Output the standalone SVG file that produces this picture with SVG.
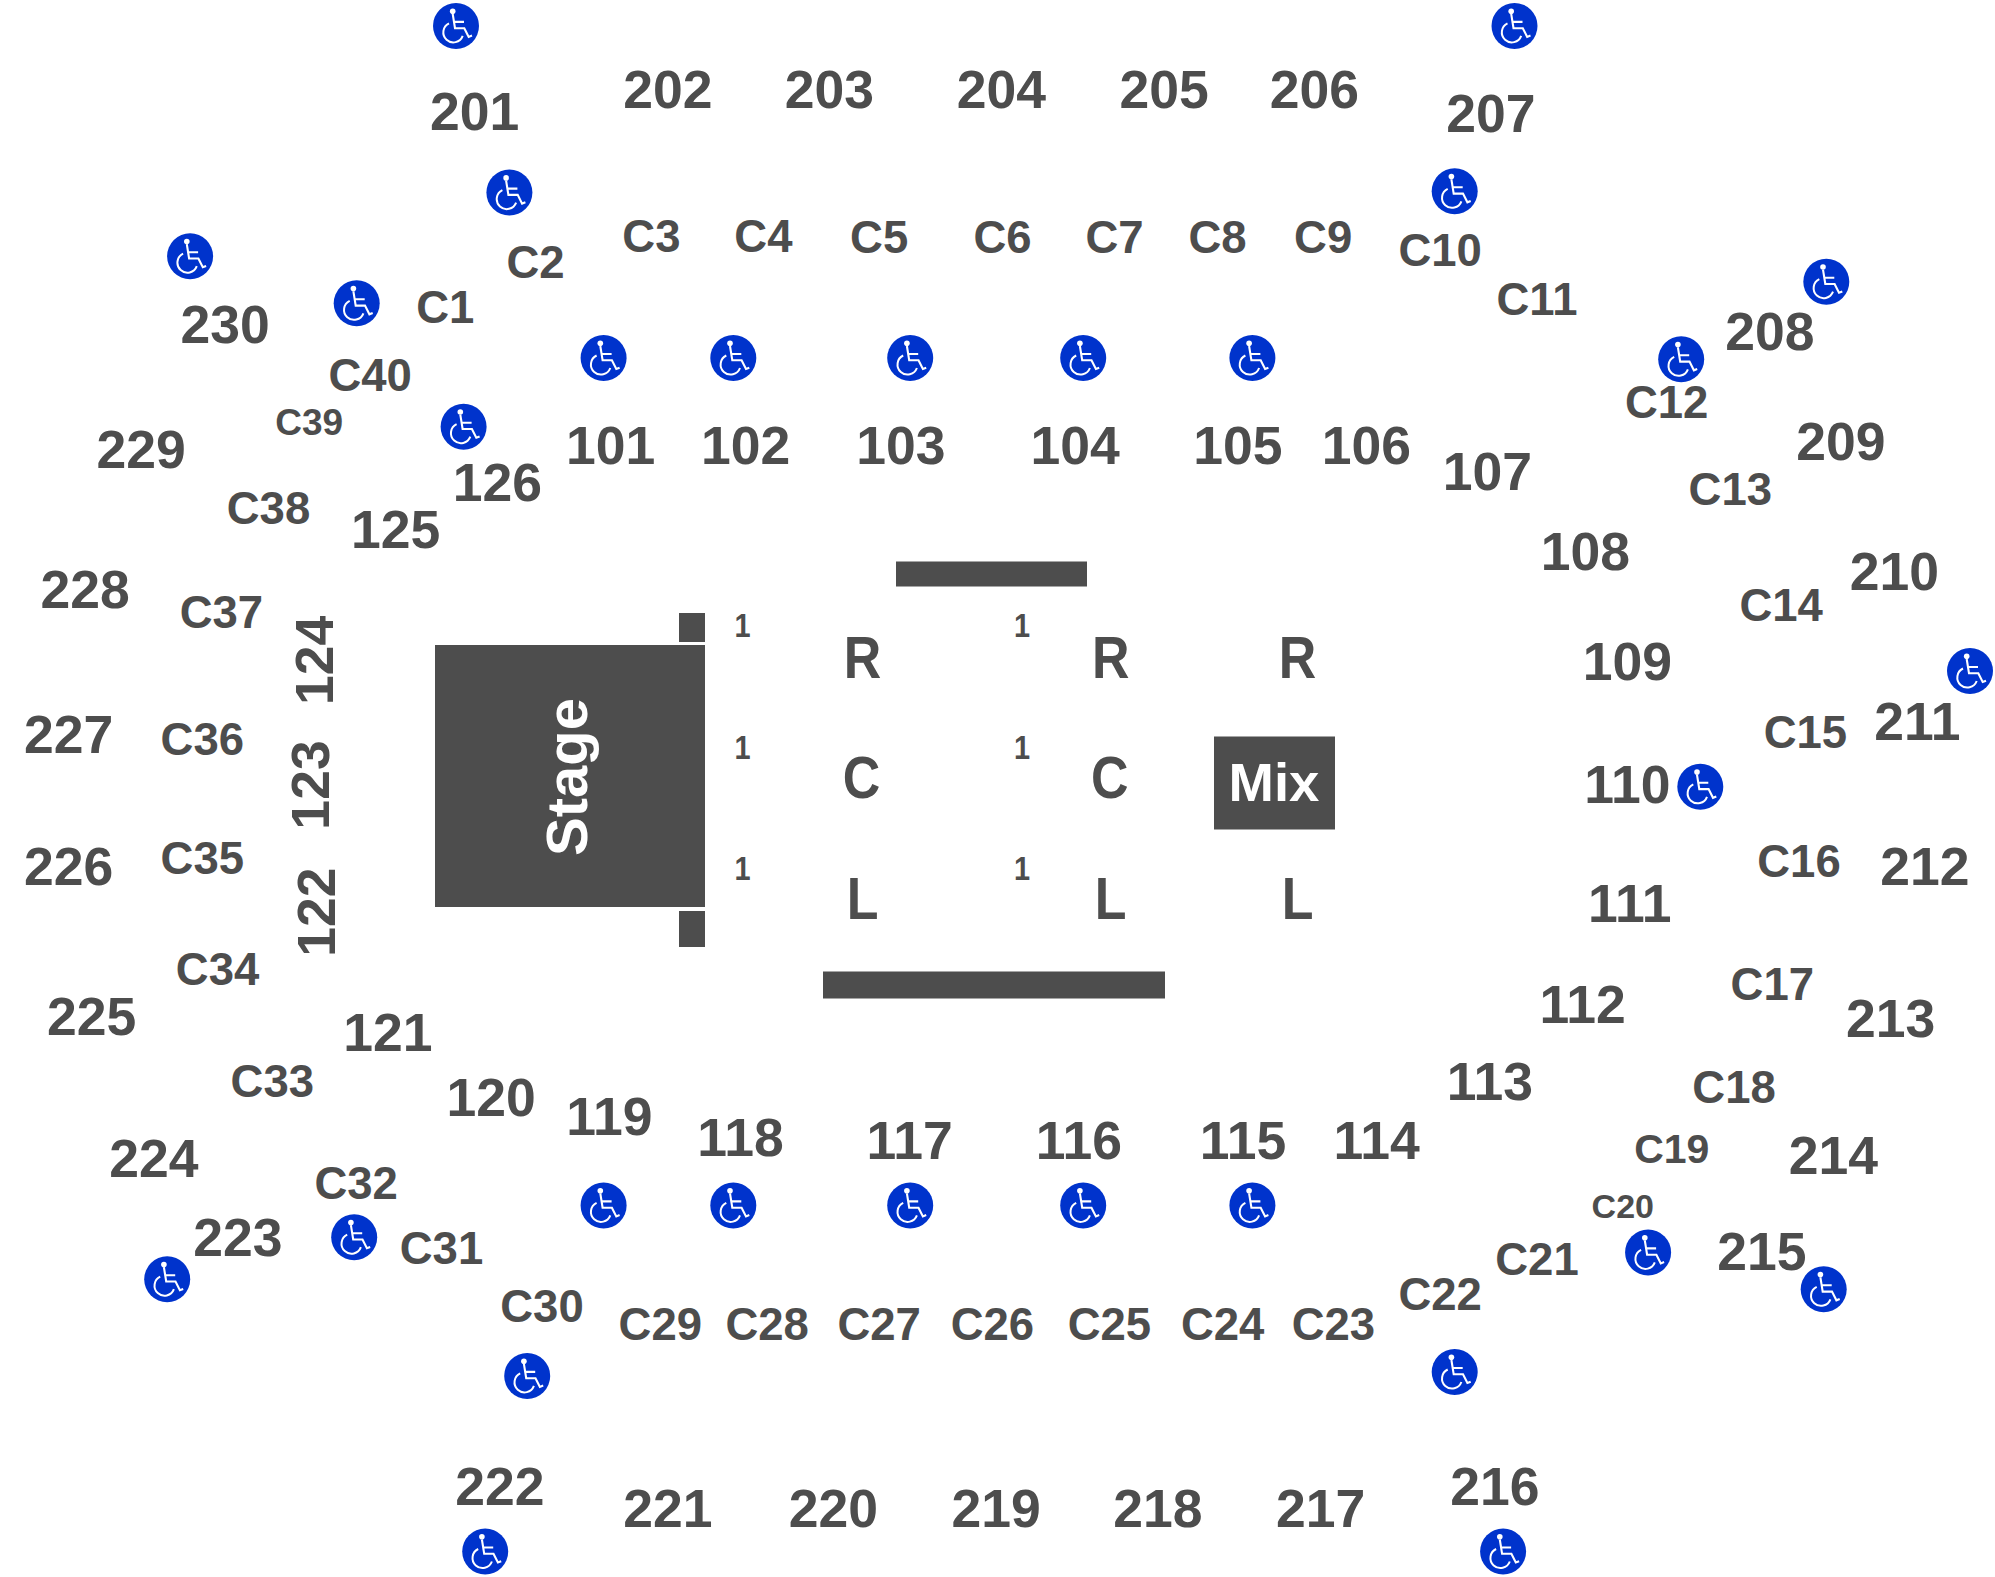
<svg xmlns="http://www.w3.org/2000/svg" width="1995" height="1577" viewBox="0 0 1995 1577">
<style>
text{font-family:"Liberation Sans",Arial,sans-serif;font-weight:700;fill:#4d4d4d;text-anchor:middle;dominant-baseline:central}
.b{font-size:53.500px}.c{font-size:45.500px}.r{font-size:59px}.o{font-size:34px}
.w{fill:#fff}.f{fill:#4d4d4d}
</style>
<defs>
<g id="wc"><circle r="23" fill="#0033cc"/><circle cx="-3.300" cy="-14.700" r="2.800" fill="#fff"/><path d="M-3.300-12-1 2.300H8.300L12.700 11 16 9.700M-2-4H8" fill="none" stroke="#fff" stroke-width="2.100"/><path d="M-7-2.500A10 10 0 1 0 6.700 10" fill="none" stroke="#fff" stroke-width="2"/></g>
</defs>
<rect width="1995" height="1577" fill="#fff"/>
<g id="stage"><rect class="f" x="435" y="645" width="270" height="262"/><rect class="f" x="679" y="613" width="26" height="29"/><rect class="f" x="679" y="911" width="26" height="36"/><text class="w" style="font-size:58px" transform="translate(566 777) rotate(-90)">Stage</text></g>
<g id="bars"><rect class="f" x="896" y="561.500" width="191" height="25"/><rect class="f" x="823" y="971.500" width="342" height="27"/></g>
<g id="mix"><rect class="f" x="1214" y="736.500" width="121" height="93"/><text class="w" style="font-size:54.500px" x="1274" y="782">Mix</text></g>
<g id="rows">
<text class="r" transform="translate(862.600 658) scale(.88 1)">R</text><text class="r" transform="translate(861.600 777.600) scale(.88 1)">C</text><text class="r" transform="translate(862.600 898.500) scale(.88 1)">L</text>
<text class="r" transform="translate(1110.700 658) scale(.88 1)">R</text><text class="r" transform="translate(1109.700 777.600) scale(.88 1)">C</text><text class="r" transform="translate(1110.700 898.500) scale(.88 1)">L</text>
<text class="r" transform="translate(1297.500 658) scale(.88 1)">R</text><text class="r" transform="translate(1297.500 898.500) scale(.88 1)">L</text>
<text class="o" transform="translate(742.500 625.500) scale(.85 1)">1</text><text class="o" transform="translate(742.500 747.500) scale(.85 1)">1</text><text class="o" transform="translate(742.500 868.500) scale(.85 1)">1</text>
<text class="o" transform="translate(1022 625.500) scale(.85 1)">1</text><text class="o" transform="translate(1022 747.500) scale(.85 1)">1</text><text class="o" transform="translate(1022 868.500) scale(.85 1)">1</text>
</g>
<g id="upper" transform="translate(0 -1)">
<text class="b" x="474.600" y="112">201</text><text class="b" x="668" y="90">202</text><text class="b" x="829.500" y="90">203</text><text class="b" x="1001.300" y="90">204</text><text class="b" x="1164.200" y="90">205</text><text class="b" x="1314.300" y="90">206</text><text class="b" x="1491" y="114.500">207</text><text class="b" x="1769.800" y="332">208</text><text class="b" x="1841" y="442.800">209</text><text class="b" x="1894.500" y="572.500">210</text><text class="b" x="1917.400" y="722.700">211</text><text class="b" x="1925" y="867.700">212</text><text class="b" x="1890.600" y="1019">213</text><text class="b" x="1833.400" y="1156.500">214</text><text class="b" x="1762" y="1252">215</text><text class="b" x="1495" y="1487.300">216</text><text class="b" x="1320.600" y="1509">217</text><text class="b" x="1157.800" y="1509">218</text><text class="b" x="996.200" y="1509">219</text><text class="b" x="833.400" y="1509">220</text><text class="b" x="668" y="1509">221</text><text class="b" x="500" y="1487.300">222</text><text class="b" x="238" y="1238">223</text><text class="b" x="154" y="1159">224</text><text class="b" x="91.600" y="1017.800">225</text><text class="b" x="68.700" y="867.700">226</text><text class="b" x="68.700" y="735.400">227</text><text class="b" x="85.200" y="590.300">228</text><text class="b" x="141.200" y="450.400">229</text><text class="b" x="225.200" y="325.700">230</text>
</g>
<g id="lower" transform="translate(0 -1)">
<text class="b" x="610.700" y="446.600">101</text><text class="b" x="745.600" y="446.600">102</text><text class="b" x="900.800" y="446.600">103</text><text class="b" x="1075.100" y="446.600">104</text><text class="b" x="1238" y="446.600">105</text><text class="b" x="1366.500" y="446.600">106</text><text class="b" x="1487.300" y="472">107</text><text class="b" x="1585.300" y="552.200">108</text><text class="b" x="1627.300" y="662.900">109</text><text class="b" x="1627.300" y="785">110</text><text class="b" x="1629.800" y="904.600">111</text><text class="b" x="1582.700" y="1005.100">112</text><text class="b" x="1489.900" y="1082.700">113</text><text class="b" x="1376.600" y="1141.300">114</text><text class="b" x="1243" y="1141.300">115</text><text class="b" x="1078.900" y="1141.300">116</text><text class="b" x="909.700" y="1141.300">117</text><text class="b" x="740.500" y="1138.700">118</text><text class="b" x="609.400" y="1117">119</text><text class="b" x="491.100" y="1098">120</text><text class="b" x="388" y="1033">121</text>
<text class="b" transform="translate(316.800 913.200) rotate(-90)">122</text><text class="b" transform="translate(310.400 786) rotate(-90)">123</text><text class="b" transform="translate(314.300 661.300) rotate(-90)">124</text>
<text class="b" x="395.700" y="530.500">125</text><text class="b" x="497.500" y="483.500">126</text>
</g>
<g id="club">
<text class="c" x="445.300" y="307.900">C1</text><text class="c" x="535.600" y="262.100">C2</text><text class="c" x="651.400" y="236.600">C3</text><text class="c" x="763.400" y="236.600">C4</text><text class="c" x="879.200" y="237.900">C5</text><text class="c" x="1002.600" y="237.900">C6</text><text class="c" x="1114.500" y="237.900">C7</text><text class="c" x="1217.600" y="237.900">C8</text><text class="c" x="1323.200" y="237.900">C9</text><text class="c" x="1440.200" y="250.600">C10</text><text class="c" x="1537" y="299">C11</text><text class="c" x="1666.700" y="402">C12</text><text class="c" x="1730.300" y="489.800">C13</text><text class="c" x="1781.200" y="605.600">C14</text><text class="c" x="1805.400" y="732.800">C15</text><text class="c" x="1799" y="861.300">C16</text><text class="c" x="1772.300" y="984.800">C17</text><text class="c" x="1734.100" y="1087.800">C18</text><text class="c" style="font-size:41px" x="1671.800" y="1148.900">C19</text><text class="c" style="font-size:34px" x="1622.800" y="1206.100">C20</text><text class="c" x="1537" y="1259.600">C21</text><text class="c" x="1440.200" y="1294.500">C22</text><text class="c" x="1333.400" y="1324">C23</text><text class="c" x="1222.700" y="1324">C24</text><text class="c" x="1109.400" y="1324">C25</text><text class="c" x="992.400" y="1324">C26</text><text class="c" x="879.200" y="1324">C27</text><text class="c" x="767.200" y="1324">C28</text><text class="c" x="660.300" y="1324">C29</text><text class="c" x="542" y="1306.700">C30</text><text class="c" x="441.500" y="1248.100">C31</text><text class="c" x="356.200" y="1183.200">C32</text><text class="c" x="272.300" y="1081.500">C33</text><text class="c" x="217.600" y="969.500">C34</text><text class="c" x="202.300" y="858.800">C35</text><text class="c" x="202.300" y="739.200">C36</text><text class="c" x="221.400" y="612">C37</text><text class="c" x="268.500" y="508.900">C38</text><text class="c" style="font-size:37px" x="309.200" y="422.400">C39</text><text class="c" x="370.200" y="375.300">C40</text>
</g>
<g id="accessible" transform="translate(.5 .5)">
<use href="#wc" x="455.500" y="25.400"/><use href="#wc" x="1514" y="25.400"/><use href="#wc" x="508.900" y="192.100"/><use href="#wc" x="1454.200" y="190.800"/><use href="#wc" x="189.600" y="255.700"/><use href="#wc" x="356.200" y="302.800"/><use href="#wc" x="1825.800" y="281.200"/><use href="#wc" x="1680.700" y="358.800"/>
<use href="#wc" x="603.100" y="357.500"/><use href="#wc" x="732.800" y="357.500"/><use href="#wc" x="909.700" y="357.500"/><use href="#wc" x="1082.700" y="357.500"/><use href="#wc" x="1251.900" y="357.500"/>
<use href="#wc" x="463.100" y="426.200"/><use href="#wc" x="1969.500" y="670.500"/><use href="#wc" x="1699.800" y="786.300"/>
<use href="#wc" x="603.100" y="1204.900"/><use href="#wc" x="732.800" y="1204.900"/><use href="#wc" x="909.700" y="1204.900"/><use href="#wc" x="1082.700" y="1204.900"/><use href="#wc" x="1251.900" y="1204.900"/>
<use href="#wc" x="353.700" y="1236.700"/><use href="#wc" x="166.700" y="1278.700"/><use href="#wc" x="1647.600" y="1251.900"/><use href="#wc" x="1823.200" y="1288.800"/><use href="#wc" x="526.700" y="1375.400"/><use href="#wc" x="1454.200" y="1371.500"/><use href="#wc" x="484.700" y="1551"/><use href="#wc" x="1502.600" y="1551"/>
</g>
</svg>
